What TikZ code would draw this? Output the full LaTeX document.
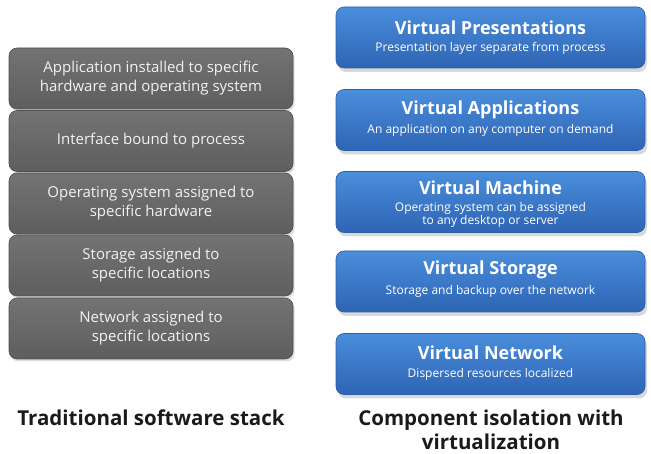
\documentclass[tikz,border=0pt]{standalone}
\usepackage{fontspec}
\setmainfont{Open Sans}
\usetikzlibrary{shadows}
\definecolor{graytop}{HTML}{737373}
\definecolor{graybot}{HTML}{5E5E5E}
\definecolor{grayedge}{HTML}{505050}
\definecolor{bluetop}{HTML}{4A8EDC}
\definecolor{bluebot}{HTML}{2E64B4}
\definecolor{blueedge}{HTML}{2A5EA8}
\definecolor{labeltxt}{HTML}{1A1A1A}
\definecolor{lighttxt}{HTML}{F2F2F2}
\tikzset{
  graybox/.style={rounded corners=8pt, minimum width=284pt, minimum height=61pt,
    top color=graytop, bottom color=graybot, draw=grayedge, line width=0.6pt,
    text=lighttxt, align=center, inner sep=0pt,
    font=\fontsize{15}{19}\selectfont,
    drop shadow={opacity=0.25, shadow xshift=1.5pt, shadow yshift=-2.5pt}},
  bluebox/.style={rounded corners=8pt, minimum width=309pt, minimum height=61pt,
    top color=bluetop, bottom color=bluebot, draw=blueedge, line width=0.6pt,
    text=white, align=center, inner sep=0pt,
    drop shadow={opacity=0.3, shadow xshift=2pt, shadow yshift=-4pt}},
  ttl/.style={text=white, font=\fontsize{18}{20}\selectfont\bfseries},
  sub/.style={text=white, align=center, font=\fontsize{12}{13}\selectfont},
  caption/.style={text=labeltxt, align=center, font=\fontsize{20.5}{24}\selectfont\bfseries}
}
\begin{document}
\begin{tikzpicture}[x=1pt,y=-1pt]
\useasboundingbox (0,0) rectangle (651,454);
% left stack
\node[graybox] (l1) at (151,78.5) {Application installed to specific\\hardware and operating system};
\node[graybox] (l2) at (151,141) {Interface bound to process};
\node[graybox] (l3) at (151,203.5) {Operating system assigned to\\specific hardware};
\node[graybox] (l4) at (151,265.5) {Storage assigned to\\specific locations};
\node[graybox] (l5) at (151,328.5) {Network assigned to\\specific locations};
% right column
\node[bluebox] (r1) at (490.5,37.5) {};
\node[ttl] (r1t) at (490.5,28) {Virtual Presentations};
\node[sub] (r1s) at (490.5,48) {Presentation layer separate from process};
\node[bluebox] (r2) at (490.5,120) {};
\node[ttl] (r2t) at (490.5,110) {Virtual Applications};
\node[sub] (r2s) at (490.5,130) {An application on any computer on demand};
\node[bluebox] (r3) at (490.5,202) {};
\node[ttl] (r3t) at (490.5,188) {Virtual Machine};
\node[sub] (r3s) at (490.5,214.5) {Operating system can be assigned\\to any desktop or server};
\node[bluebox] (r4) at (490.5,281.5) {};
\node[ttl] (r4t) at (490.5,270) {Virtual Storage};
\node[sub] (r4s) at (490.5,291) {Storage and backup over the network};
\node[bluebox] (r5) at (490.5,364) {};
\node[ttl] (r5t) at (490.5,353) {Virtual Network};
\node[sub] (r5s) at (490.5,374) {Dispersed resources localized};
% captions
\node[caption] (c1) at (151,418) {Traditional software stack};
\node[caption] (c2) at (491,430) {Component isolation with\\virtualization};
\end{tikzpicture}
\end{document}
